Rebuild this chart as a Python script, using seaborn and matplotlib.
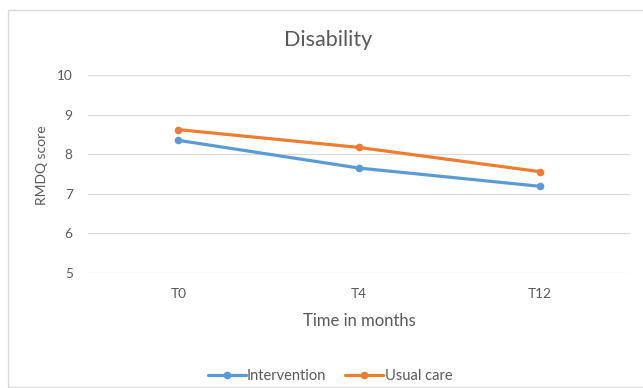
import matplotlib
matplotlib.use("Agg")
import matplotlib.pyplot as plt
import seaborn as sns
import pandas as pd
from matplotlib.patches import Rectangle

# values
timepoints = ["T0", "T4", "T12"]
intervention = [8.35, 7.65, 7.19]
usual_care = [8.62, 8.17, 7.56]
y_ticks = [5, 6, 7, 8, 9, 10]

df = pd.DataFrame({
    "time": timepoints * 2,
    "score": intervention + usual_care,
    "group": ["Intervention"] * 3 + ["Usual care"] * 3,
})

sns.set_style("white")
plt.rcParams["font.family"] = ["Lato", "DejaVu Sans"]
txt = "#595959"
W, H = 643, 388

fig = plt.figure(figsize=(W / 100, H / 100), dpi=100)
ax = fig.add_axes([88 / W, 1 - 273 / H, 542 / W, 198 / H])

# chart frame like Excel (right edge runs off the picture)
fig.patches.append(Rectangle((8 / W, 1 / H), 700 / W, 377 / H,
                             transform=fig.transFigure, fill=False,
                             edgecolor="#d9d9d9", linewidth=1))

sns.lineplot(data=df, x="time", y="score", hue="group", marker="o",
             palette=["#5b9bd5", "#ed7d31"], linewidth=2.3, markersize=5.5,
             markeredgewidth=0, sort=False, ax=ax, legend=True)

ax.set_ylim(5, 10)
ax.set_xlim(-0.5, 2.5)
ax.set_yticks(y_ticks)
ax.yaxis.grid(True, color="#d9d9d9", linewidth=0.9)
ax.xaxis.grid(False)
for s in ax.spines.values():
    s.set_visible(False)
ax.tick_params(axis="both", length=0, colors=txt, labelsize=9.8)
ax.tick_params(axis="x", pad=11)
ax.tick_params(axis="y", pad=11)

ax.set_xlabel("Time in months", color=txt, fontsize=12, va="center")
ax.xaxis.set_label_coords(359 / W, 1 - 321 / H, transform=fig.transFigure)
ax.set_ylabel("RMDQ score", color=txt, fontsize=10, va="center")
ax.yaxis.set_label_coords(42 / W, 1 - 165 / H, transform=fig.transFigure)

fig.text(328 / W, 1 - 40 / H, "Disability", ha="center",
         va="center", color=txt, fontsize=15.5)

leg = ax.legend(loc="center", bbox_to_anchor=(330 / W, 1 - 376 / H),
                bbox_transform=fig.transFigure, ncol=2, frameon=False,
                fontsize=10.5, handlelength=2.6, columnspacing=1.3,
                handletextpad=0.1)
for t in leg.get_texts():
    t.set_color(txt)

fig.savefig("out.png", dpi=100)
